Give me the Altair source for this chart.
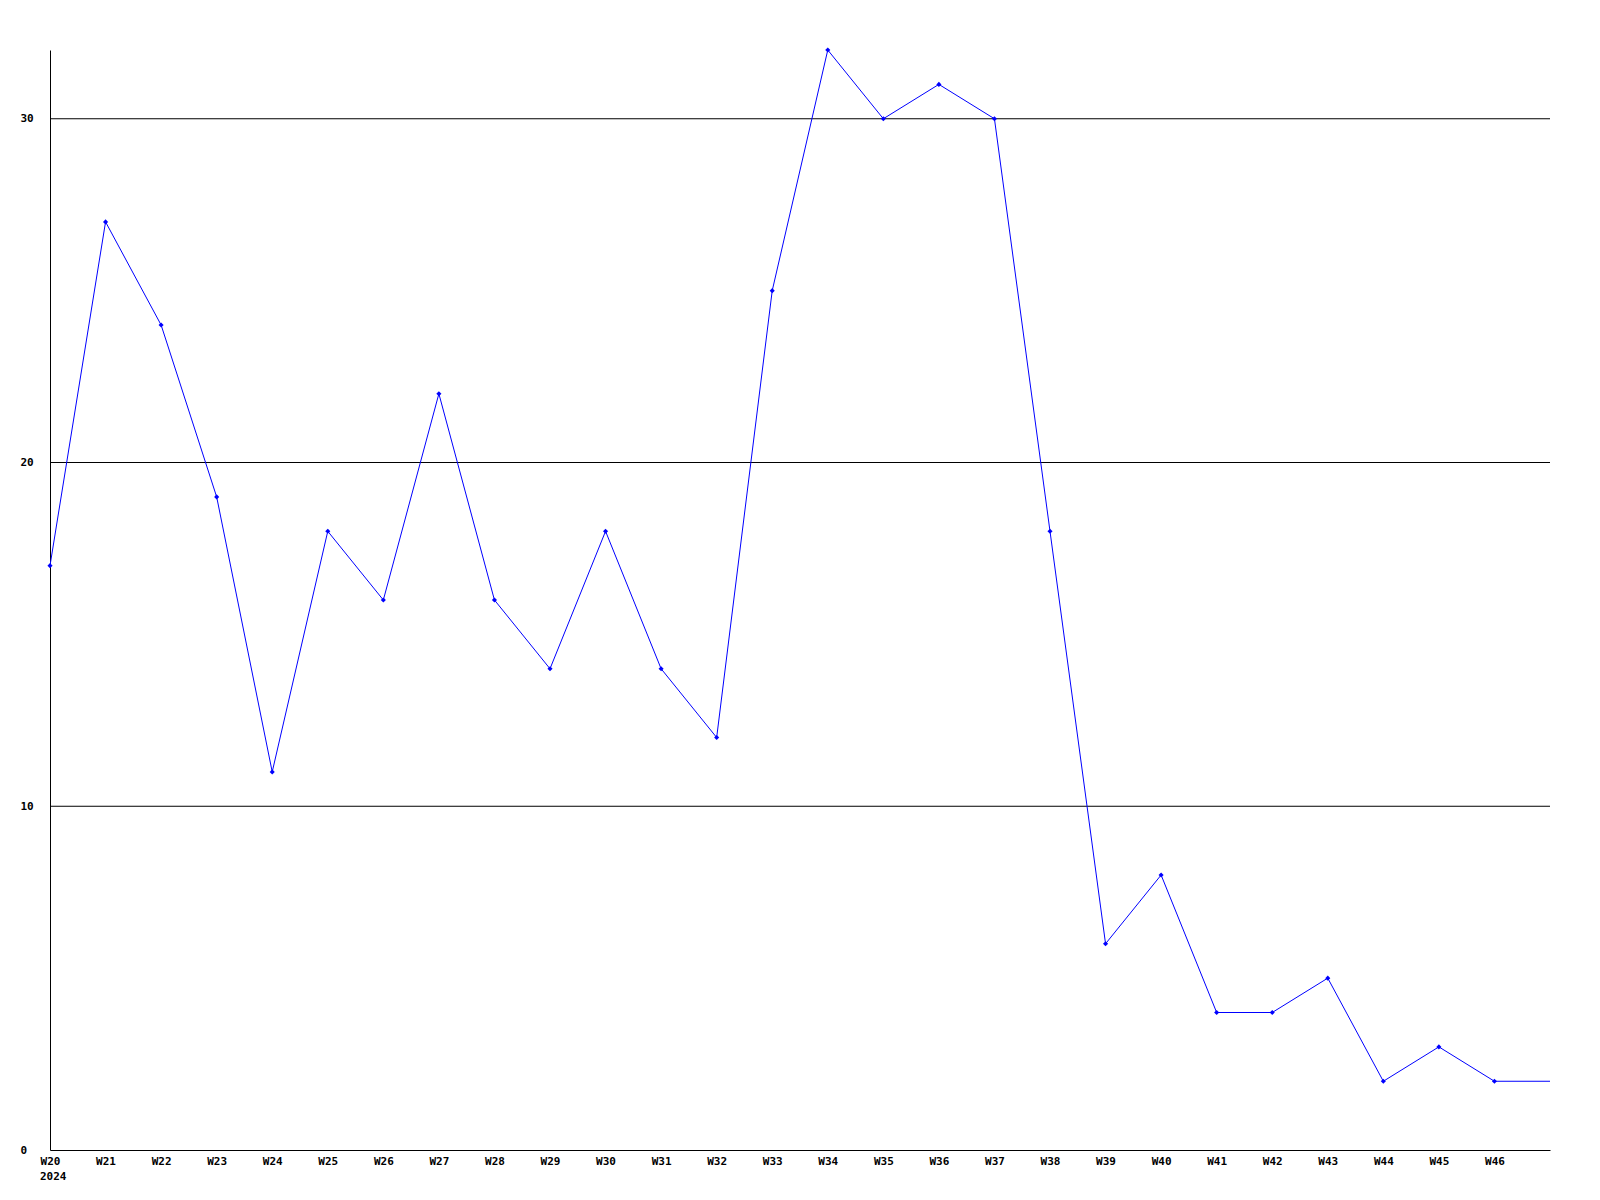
import altair as alt
import pandas as pd
import json

weeks = ["W20", "W21", "W22", "W23", "W24", "W25", "W26", "W27", "W28", "W29",
         "W30", "W31", "W32", "W33", "W34", "W35", "W36", "W37", "W38", "W39",
         "W40", "W41", "W42", "W43", "W44", "W45", "W46"]
values = [17, 27, 24, 19, 11, 18, 16, 22, 16, 14,
          18, 14, 12, 25, 32, 30, 31, 30, 18, 6,
          8, 4, 4, 5, 2, 3, 2]
# line continues to the right edge (next week, same value)
tail_value = 2
year_label = "2024"

idx = list(range(len(weeks)))
df_pts = pd.DataFrame({"i": idx, "week": weeks, "v": values})
df_line = pd.DataFrame({"i": idx + [len(weeks)], "v": values + [tail_value]})
df_year = pd.DataFrame({"i": [0], "t": [year_label]})

FONT = "DejaVu Sans Mono"
label_arr = json.dumps(weeks)

xscale = alt.Scale(domain=[0, len(weeks)], nice=False, zero=False)
yscale = alt.Scale(domain=[0, 32], nice=False)

line = alt.Chart(df_line).mark_line(color="#0000ff", strokeWidth=1, clip=True).encode(
    x=alt.X("i:Q", scale=xscale,
            axis=alt.Axis(values=idx, labelExpr=f"{label_arr}[datum.value]",
                          title=None, grid=False, ticks=False, domainColor="black",
                          domainWidth=1, labelFont=FONT, labelFontWeight="bold",
                          labelFontSize=11, labelColor="black", labelPadding=5,
                          labelAlign="center", labelBaseline="top", labelFlush=False,
                          labelOverlap=False)),
    y=alt.Y("v:Q", scale=yscale,
            axis=alt.Axis(values=[0, 10, 20, 30], title=None, grid=False, ticks=False,
                          domainColor="black", domainWidth=1, labelFont=FONT,
                          labelFontWeight="bold", labelFontSize=11, labelColor="black",
                          labelAlign="left", labelPadding=30, labelBaseline="middle")),
)

grid = alt.Chart(pd.DataFrame({"g": [10, 20, 30]})).mark_rule(color="black", strokeWidth=1).encode(
    y=alt.Y("g:Q", scale=yscale)
)

pts = alt.Chart(df_pts).mark_point(shape="diamond", filled=True, size=26, color="#0000ff", opacity=1).encode(
    x=alt.X("i:Q", scale=xscale),
    y=alt.Y("v:Q", scale=yscale),
)

year = alt.Chart(df_year).mark_text(font=FONT, fontWeight="bold", fontSize=11, color="black",
                                     align="left", baseline="middle", dx=-10).encode(
    x=alt.X("i:Q", scale=xscale),
    y=alt.value(1127),
    text="t:N",
)

chart = alt.layer(grid, line, pts, year).properties(
    width=1500, height=1100,
    autosize=alt.AutoSizeParams(type="none"),
    padding={"left": 42, "top": 42, "right": 40, "bottom": 40},
).configure(background="white").configure_view(strokeWidth=0, stroke="transparent")

chart.save("out.html", embed_options={"renderer": "svg", "actions": False})
